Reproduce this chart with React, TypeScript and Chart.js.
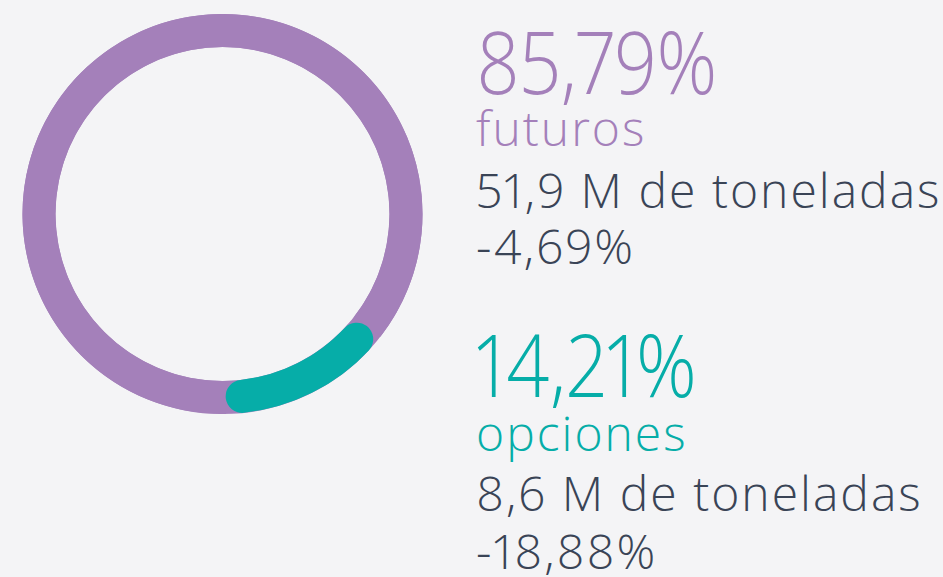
import React, { useEffect, useRef } from "react";
import { Chart, registerables } from "chart.js";

Chart.register(...registerables);

const categories = ["futuros", "opciones"];
const shares = [85.79, 14.21];
const shareLabels = ["85,79%", "14,21%"];
const tonnes = ["51,9 M de toneladas", "8,6 M de toneladas"];
const changes = ["-4,69%", "-18,88%"];

const COLORS = ["#a480ba", "#06ada8"];
const TEXT = "#3a4456";
const BG = "#f4f4f6";
const FONT = "'Open Sans', sans-serif";

const ringPlugin = {
  id: "fullRing",
  beforeDatasetsDraw(chart: any) {
    const arc = chart.getDatasetMeta(0).data[0];
    if (!arc) return;
    const { x, y, innerRadius, outerRadius } = arc.getProps(
      ["x", "y", "innerRadius", "outerRadius"],
      true
    );
    const ctx = chart.ctx;
    ctx.save();
    ctx.beginPath();
    ctx.arc(x, y, outerRadius, 0, Math.PI * 2);
    ctx.arc(x, y, innerRadius, 0, Math.PI * 2, true);
    ctx.closePath();
    ctx.fillStyle = COLORS[0];
    ctx.fill();
    ctx.restore();
  },
};

function Line(props: {
  text: string;
  baseline: number;
  size: number;
  color: string;
  weight?: number;
  spacing?: number;
  scaleX?: number;
}) {
  const { text, baseline, size, color, weight = 300, spacing = 0, scaleX = 1 } = props;
  return (
    <div
      style={{
        position: "absolute",
        left: 476,
        top: baseline - 0.888 * size,
        fontFamily: FONT,
        fontSize: size,
        lineHeight: `${size}px`,
        fontWeight: weight,
        color,
        whiteSpace: "nowrap",
        letterSpacing: spacing,
        fontVariantNumeric: "proportional-nums",
        transform: `scaleX(${scaleX})`,
        transformOrigin: "left center",
      }}
    >
      {text}
    </div>
  );
}

export default function App() {
  const ref = useRef<HTMLCanvasElement | null>(null);

  useEffect(() => {
    document.body.style.margin = "0";
    document.body.style.background = BG;
    if (!ref.current) return;
    const chart = new Chart(ref.current, {
      type: "doughnut",
      data: {
        labels: categories,
        datasets: [
          {
            data: shares,
            backgroundColor: COLORS,
            borderWidth: 0,
            borderRadius: [0, 20],
            hoverOffset: 0,
          } as any,
        ],
      },
      options: {
        animation: false,
        responsive: false,
        maintainAspectRatio: false,
        cutout: 167,
        rotation: 179,
        events: [],
        layout: { padding: 0 },
        plugins: {
          legend: { display: false },
          tooltip: { enabled: false },
        },
      } as any,
      plugins: [ringPlugin],
    });
    return () => chart.destroy();
  }, []);

  const big = 87;
  const bigScale = 0.865;
  const body = 48;
  const sp = 2;

  return (
    <div
      style={{
        position: "fixed",
        left: 0,
        top: 0,
        width: 943,
        height: 577,
        background: BG,
        overflow: "hidden",
      }}
    >
      <canvas
        ref={ref}
        width={401}
        height={400}
        style={{ position: "absolute", left: 22, top: 14, width: 401, height: 400 }}
      />
      <Line text={shareLabels[0]} baseline={94} size={big} color={COLORS[0]} scaleX={bigScale} />
      <Line text={categories[0]} baseline={147} size={body} color={COLORS[0]} spacing={sp} />
      <Line text={tonnes[0]} baseline={209} size={body} color={TEXT} spacing={sp} />
      <Line text={changes[0]} baseline={265} size={body} color={TEXT} spacing={sp} />
      <Line text={shareLabels[1]} baseline={397} size={big} color={COLORS[1]} scaleX={bigScale} />
      <Line text={categories[1]} baseline={452} size={body} color={COLORS[1]} spacing={sp} />
      <Line text={tonnes[1]} baseline={512} size={body} color={TEXT} spacing={sp} />
      <Line text={changes[1]} baseline={570} size={body} color={TEXT} spacing={sp} />
    </div>
  );
}
